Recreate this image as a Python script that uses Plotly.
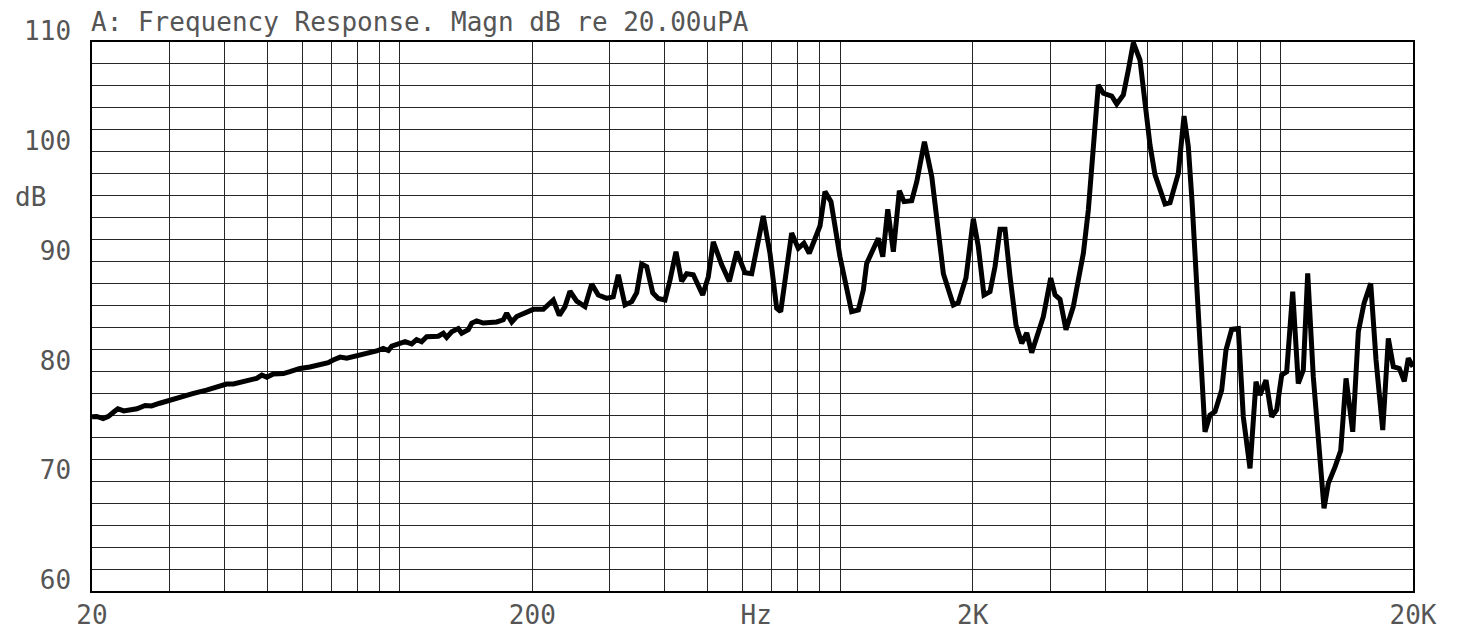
import plotly.graph_objects as go

# ---- data ----
FREQ_HZ = [
    20, 20.5, 21.2, 21.8, 22.4, 22.9, 23.6, 24.4, 25.3, 26.4,
    27.3, 28.5, 30.1, 31.7, 34.0, 36.4, 38.4, 40.4, 41.9, 44.1,
    47.3, 48.6, 49.9, 51.6, 54.4, 56.3, 59.3, 62.5, 65.9, 68.8,
    70.6, 73.2, 75.8, 79.8, 84.1, 88.6, 91.7, 94.2, 95.9, 100.1,
    102.8, 106.4, 109.2, 112.1, 115.1, 122.3, 125.6, 127.8, 131.2, 135.8,
    138.2, 143.1, 145.7, 149.5, 154.8, 166.0, 171.8, 174.9, 179.6, 184.3,
    190.8, 201.0, 211.8, 223.2, 230.3, 237.2, 243.5, 252.2, 263.4, 272.8,
    282.4, 295.1, 305.4, 313.5, 324.7, 336.3, 345.2, 354.3, 363.7, 375.3,
    386.4, 400.2, 410.8, 423.9, 436.7, 448.3, 464.0, 487.4, 501.9, 515.2,
    538.4, 560.2, 582.3, 608.1, 629.8, 669.1, 693.0, 717.7, 732.9, 776.2,
    803.5, 827.8, 851.1, 900.1, 923.9, 953.4, 999.2, 1062, 1100, 1129,
    1149, 1221, 1250, 1283, 1321, 1363, 1397, 1454, 1493, 1554,
    1615, 1658, 1716, 1808, 1855, 1931, 2007, 2060, 2122, 2190,
    2248, 2308, 2369, 2432, 2509, 2585, 2654, 2723, 2894, 3008,
    3077, 3158, 3258, 3385, 3568, 3662, 3758, 3858, 3960, 4138,
    4248, 4397, 4514, 4634, 4798, 4925, 5056, 5190, 5469, 5614,
    5863, 6040, 6177, 6298, 6498, 6740, 6918, 7102, 7355, 7522,
    7750, 8022, 8234, 8528, 8800, 8986, 9272, 9552, 9806, 10066,
    10332, 10662, 10978, 11270, 11532, 11874, 12560, 12846, 13304, 13706,
    14092, 14594, 15028, 15482, 16034, 16484, 17072, 17580, 18046, 18618,
    19112, 19516, 20000,
]

MAGN_DB = [
    75.87, 75.9, 75.7, 75.9, 76.3, 76.6, 76.4, 76.5, 76.6, 76.9,
    76.85, 77.1, 77.4, 77.7, 78.0, 78.3, 78.55, 78.85, 78.85, 79.06,
    79.37, 79.67, 79.46, 79.76, 79.8, 79.97, 80.27, 80.4, 80.6, 80.8,
    81.04, 81.3, 81.2, 81.4, 81.7, 81.86, 82.1, 81.9, 82.3, 82.5,
    82.7, 82.5, 82.9, 82.7, 83.16, 83.2, 83.47, 83.1, 83.6, 83.9,
    83.47, 83.8, 84.4, 84.6, 84.4, 84.5, 84.7, 85.3, 84.5, 85.0,
    85.3, 85.65, 85.65, 86.5, 85.1, 85.9, 87.3, 86.4, 85.9, 87.96,
    86.96, 86.65, 86.8, 88.8, 86.05, 86.35, 87.17, 89.78, 89.54, 87.17,
    86.65, 86.5, 88.3, 90.9, 88.2, 88.9, 88.8, 86.96, 88.6, 91.8,
    89.7, 88.2, 90.9, 88.99, 88.9, 94.15, 90.76, 85.75, 85.44, 92.6,
    91.2, 91.67, 90.76, 93.24, 96.37, 95.46, 90.45, 85.44, 85.6, 87.4,
    89.84, 92.12, 90.45, 94.76, 90.9, 96.46, 95.46, 95.55, 97.28, 100.92,
    97.73, 93.5, 88.9, 86.05, 86.26, 88.5, 93.9, 91.36, 86.96, 87.26,
    89.54, 92.94, 92.94, 88.6, 84.2, 82.56, 83.5, 81.7, 84.98, 88.5,
    86.96, 86.57, 83.8, 85.9, 90.76, 94.7, 100.77, 106.08, 105.33, 105.08,
    104.35, 105.17, 107.45, 109.94, 108.36, 104.1, 100.6, 97.9, 95.25, 95.37,
    98.04, 103.26, 100.46, 95.5, 86.3, 74.5, 76.03, 76.33, 78.3, 81.95,
    83.83, 83.9, 75.87, 71.17, 79.06, 77.85, 79.2, 75.87, 76.5, 79.67,
    79.97, 87.26, 78.9, 80.13, 88.93, 79.52, 67.53, 69.8, 71.3, 72.8,
    79.36, 74.5, 83.6, 86.2, 88.02, 81.04, 74.66, 83.0, 80.43, 80.27,
    79.1, 81.2, 80.43,
]

X_TICK_VALS = [20, 200, 645, 2000, 20000]
X_TICK_TEXT = ["20", "200", "Hz", "2K", "20K"]
X_GRID_VALS = [30, 40, 50, 60, 70, 80, 90, 100,
               200, 300, 400, 500, 600, 700, 800, 900, 1000,
               2000, 3000, 4000, 5000, 6000, 7000, 8000, 9000, 10000]
Y_TICK_VALS = [60, 70, 80, 90, 100, 110]
Y_TICK_TEXT = ["60", "70", "80", "90", "100", "110"]

TITLE = "A: Frequency Response. Magn dB re 20.00uPA"
Y_UNIT = "dB"
Y_UNIT_POS = 95.9

FONT = dict(family="DejaVu Sans Mono, Liberation Mono, monospace", size=26, color="#555555")
GRID = "#262626"

fig = go.Figure()
fig.add_trace(go.Scatter(
    x=FREQ_HZ, y=MAGN_DB, mode="lines",
    line=dict(color="black", width=5),
    hoverinfo="skip", showlegend=False,
))

# the page body has an 8px default margin, so the margins are offset by it
fig.update_layout(
    width=1460, height=630,
    margin=dict(l=84, r=55, t=34, b=47, autoexpand=False),
    paper_bgcolor="white", plot_bgcolor="white",
    font=FONT,
    showlegend=False,
    xaxis=dict(
        type="log", range=[1.30103, 4.30103], automargin=False,
        tickmode="array", tickvals=X_TICK_VALS, ticktext=X_TICK_TEXT,
        showgrid=False, ticks="", zeroline=False,
        showline=True, mirror=True, linecolor="black", linewidth=1.5,
        tickfont=FONT,
        minor=dict(tickmode="array", tickvals=X_GRID_VALS, showgrid=True,
                   gridcolor=GRID, gridwidth=1.2, ticks=""),
    ),
    yaxis=dict(
        range=[60, 110], automargin=False,
        tickmode="array", tickvals=Y_TICK_VALS, ticktext=Y_TICK_TEXT,
        showgrid=True, gridcolor=GRID, gridwidth=1.3,
        ticks="", zeroline=False,
        showline=True, mirror=True, linecolor="black", linewidth=1.5,
        tickfont=FONT, ticklabelshift=-11, ticklabelstandoff=14,
        minor=dict(dtick=2, showgrid=True, gridcolor=GRID, gridwidth=1.3, ticks=""),
    ),
    annotations=[
        dict(text=TITLE, xref="paper", yref="paper", x=0, y=1,
             xanchor="left", yanchor="bottom", yshift=3, xshift=-3,
             showarrow=False, font=FONT),
        dict(text=Y_UNIT, xref="paper", yref="y", x=0, y=Y_UNIT_POS,
             xanchor="center", yanchor="middle", xshift=-62, showarrow=False, font=FONT),
    ],
)

fig.write_html("out.html")
